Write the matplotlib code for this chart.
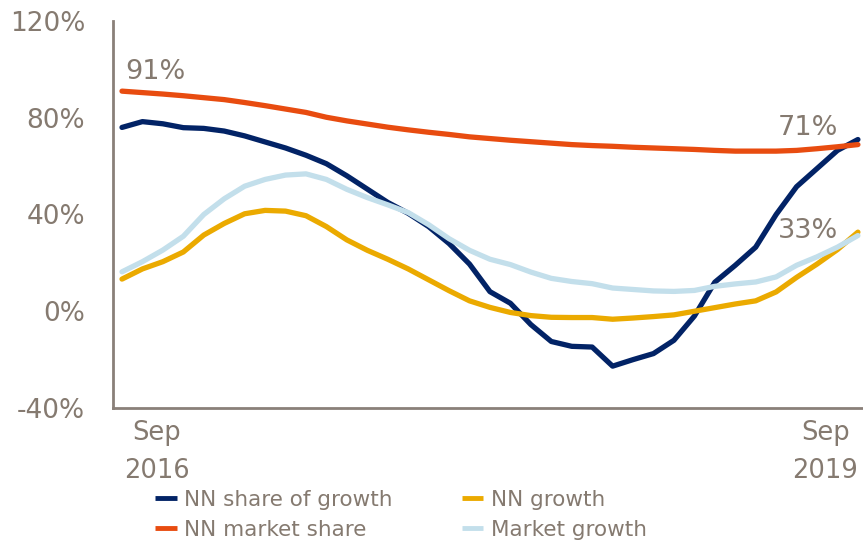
import matplotlib
matplotlib.use("Agg")
import matplotlib.pyplot as plt
import numpy as np

# Monthly values Sep 2016 .. Sep 2019 (in %)
months = np.arange(37)

nn_share_of_growth = [76.0, 78.4, 77.5, 75.9, 75.6, 74.5, 72.5, 70.0, 67.5, 64.5,
                      61.0, 56.0, 50.5, 45.0, 40.5, 35.0, 28.0, 19.5, 8.1, 3.3,
                      -5.5, -12.5, -14.5, -14.8, -22.7, -20.0, -17.5, -12.0, -2.0, 12.0,
                      19.0, 26.5, 40.0, 51.5, 59.0, 66.5, 71.0]

nn_market_share = [91.0, 90.4, 89.8, 89.1, 88.3, 87.5, 86.3, 85.0, 83.6, 82.2,
                   80.2, 78.7, 77.4, 76.1, 75.0, 74.0, 73.1, 72.1, 71.4, 70.7,
                   70.1, 69.5, 68.9, 68.5, 68.2, 67.8, 67.5, 67.2, 66.9, 66.5,
                   66.2, 66.2, 66.2, 66.5, 67.2, 68.0, 68.9]

nn_growth = [13.3, 17.5, 20.5, 24.5, 31.5, 36.3, 40.3, 41.7, 41.4, 39.5,
             35.0, 29.5, 25.2, 21.5, 17.5, 13.0, 8.5, 4.3, 1.6, -0.5,
             -1.8, -2.5, -2.6, -2.6, -3.3, -2.8, -2.2, -1.5, 0.0, 1.5,
             3.0, 4.3, 8.0, 14.0, 19.5, 25.5, 32.7]

market_growth = [16.3, 20.5, 25.3, 31.0, 40.0, 46.5, 51.7, 54.5, 56.3, 56.8,
                 54.5, 50.4, 47.0, 44.0, 40.8, 35.8, 30.0, 25.2, 21.5, 19.3,
                 16.2, 13.6, 12.3, 11.4, 9.6, 9.0, 8.4, 8.2, 8.6, 10.3,
                 11.3, 12.1, 14.2, 19.0, 22.5, 26.5, 31.3]

y_ticks = [-40, 0, 40, 80, 120]
y_tick_labels = ["-40%", "0%", "40%", "80%", "120%"]
x_tick_labels = ["Sep\n2016", "Sep\n2019"]
labels = ["NN share of growth", "NN growth", "NN market share", "Market growth"]
annotations = ["91%", "71%", "33%"]

TXT = "#857a70"
SPINE = "#8a8079"
C_NAVY = "#022366"
C_ORANGE = "#e84c10"
C_GOLD = "#ebaa00"
C_LBLUE = "#c3dfeb"

plt.rcParams['font.family'] = ['DejaVu Sans']

fig = plt.figure(figsize=(8.63, 5.43), dpi=100)
ax = fig.add_axes([113/863, 1 - 408/543, (862-113)/863, (408-21)/543])

lw = 3.8
kw = dict(lw=lw, solid_capstyle='round', solid_joinstyle='round')
l1, = ax.plot(months, nn_share_of_growth, color=C_NAVY, zorder=2, **kw)
l2, = ax.plot(months, nn_growth, color=C_GOLD, zorder=3, **kw)
l3, = ax.plot(months, nn_market_share, color=C_ORANGE, zorder=4, **kw)
l4, = ax.plot(months, market_growth, color=C_LBLUE, zorder=5, **kw)

ax.set_xlim(-0.44, 36.2)
ax.set_ylim(-40, 120)
ax.set_yticks(y_ticks)
ax.set_yticklabels(y_tick_labels)
ax.set_xticks([1.7, 34.4])
ax.set_xticklabels(x_tick_labels, linespacing=1.6)

ax.tick_params(axis='y', length=0, pad=20, labelsize=19, labelcolor=TXT)
ax.tick_params(axis='x', length=0, pad=9, labelsize=18.5, labelcolor=TXT)

for s in ['top', 'right']:
    ax.spines[s].set_visible(False)
for s in ['left', 'bottom']:
    ax.spines[s].set_color(SPINE)
    ax.spines[s].set_linewidth(2)

# annotations
ax.text(0.15, 98.9, annotations[0], color=TXT, fontsize=19.5, ha='left', va='center')
ax.text(32.1, 75.8, annotations[1], color=TXT, fontsize=19.5, ha='left', va='center')
ax.text(32.1, 33.2, annotations[2], color=TXT, fontsize=19.5, ha='left', va='center')

leg = fig.legend([l1, l3, l2, l4], [labels[0], labels[2], labels[1], labels[3]],
                 ncol=2, loc='upper left', bbox_to_anchor=(155/863, 1 - 490/543),
                 frameon=False, fontsize=15.5, handlelength=1.0, handletextpad=0.37,
                 columnspacing=3.2, labelspacing=0.45, borderpad=0, borderaxespad=0)
for t in leg.get_texts():
    t.set_color(TXT)
for h in leg.get_lines():
    h.set_linewidth(3.5)
    h.set_solid_capstyle('butt')

fig.savefig("out.png", dpi=100)
